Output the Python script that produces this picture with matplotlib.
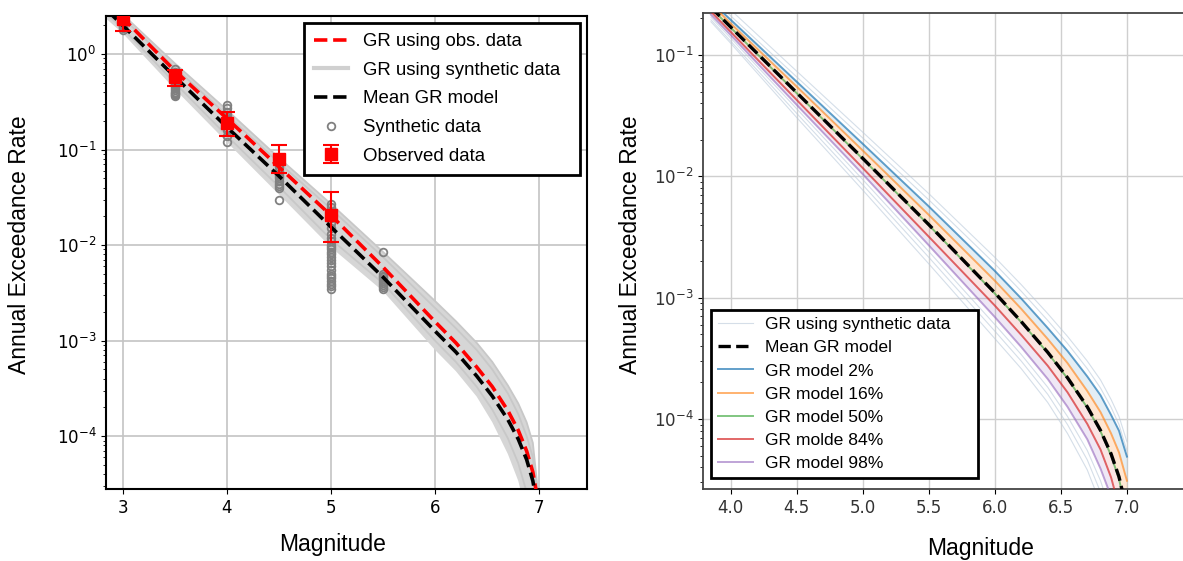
import numpy as np
import matplotlib.pyplot as plt
from matplotlib.lines import Line2D

# ---------------- left panel data ----------------
mag_l = [2.85, 3.0, 3.5, 4.0, 4.5, 5.0, 5.5, 6.0, 6.2, 6.4, 6.55, 6.7, 6.8, 6.88, 6.94, 7.0]
gr_obs = [3.4, 2.4, 0.67, 0.212, 0.066, 0.0205, 0.0059, 0.00158, 0.00095, 0.00053,
          0.00033, 0.000185, 0.000115, 7e-05, 4.2e-05, 1.8e-05]
gr_mean_l = [2.87, 2.0, 0.58, 0.172, 0.053, 0.0155, 0.00463, 0.00126, 0.000761, 0.000427,
             0.000263, 0.000149, 9.3e-05, 5.7e-05, 3.4e-05, 1.44e-05]
band_hi = [3.5, 2.6, 0.8, 0.26, 0.082, 0.027, 0.0085, 0.0026, 0.0016, 0.00095,
           0.0006, 0.00034, 0.00022, 0.00014, 8.5e-05, 2e-05]
band_lo = [2.3, 1.65, 0.43, 0.12, 0.034, 0.0095, 0.0033, 0.0008, 0.00048, 0.00026,
           0.00014, 6.5e-05, 3.4e-05, 1.5e-05, 5e-06, 1e-06]
syn_line_a = [3.2, 2.4, 0.72, 0.23, 0.073, 0.024, 0.0075, 0.0022, 0.00135, 0.0008,
              0.0005, 0.00028, 0.00017, 0.0001, 6e-05, 1.6e-05]
syn_line_b = [2.6, 1.85, 0.5, 0.14, 0.041, 0.0115, 0.004, 0.001, 0.0006, 0.00033,
              0.00019, 9.5e-05, 5.2e-05, 2.6e-05, 1.1e-05, 2e-06]

syn_pts = {
    3.0: [1.8, 1.85, 1.9, 1.95, 2.0, 2.05, 2.1, 2.2, 2.3],
    3.5: [0.36, 0.37, 0.38, 0.39, 0.40, 0.42, 0.44, 0.46, 0.48, 0.50, 0.53, 0.56,
          0.60, 0.65, 0.70],
    4.0: [0.12, 0.14, 0.16, 0.17, 0.18, 0.19, 0.20, 0.21, 0.22, 0.23, 0.25, 0.27, 0.29],
    4.5: [0.030, 0.040, 0.042, 0.044, 0.047, 0.050, 0.053, 0.056, 0.060, 0.065, 0.070],
    5.0: [0.0035, 0.0037, 0.0039, 0.0042, 0.0045, 0.0048, 0.005, 0.0055, 0.006, 0.0065,
          0.007, 0.0075, 0.008, 0.0085, 0.009, 0.0095, 0.010, 0.011, 0.012, 0.013,
          0.015, 0.017, 0.019, 0.022, 0.025, 0.027],
    5.5: [0.0035, 0.0036, 0.0038, 0.004, 0.0042, 0.0044, 0.0046, 0.0048, 0.005, 0.0085],
}

obs_m = [3.0, 3.5, 4.0, 4.5, 5.0]
obs_rate = [2.3, 0.57, 0.19, 0.08, 0.0205]
obs_hi = [2.9, 0.68, 0.245, 0.112, 0.036]
obs_lo = [1.75, 0.46, 0.14, 0.057, 0.0108]

# ---------------- right panel data ----------------
mag_r = [3.85, 4.0, 4.5, 5.0, 5.5, 6.0, 6.2, 6.4, 6.55, 6.7, 6.8, 6.88, 6.94, 7.0]
gr_mean_r = [0.247, 0.17, 0.0489, 0.01406, 0.004, 0.001096, 0.000635, 0.000355,
             0.000219, 0.000126, 8.06e-05, 5.16e-05, 3.34e-05, 1.75e-05]
p02 = [0.277, 0.195, 0.0602, 0.01853, 0.00565, 0.00166, 0.000984, 0.000563,
       0.000364, 0.000224, 0.000157, 0.000108, 8e-05, 4.9e-05]
p16 = [0.265, 0.182, 0.0549, 0.01632, 0.00481, 0.00138, 0.000809, 0.000457,
       0.000289, 0.00017, 0.000114, 7.6e-05, 5.3e-05, 3.1e-05]
p50 = [0.244, 0.168, 0.0484, 0.0139, 0.00396, 0.00108, 0.000628, 0.000351,
       0.000216, 0.000124, 7.9e-05, 5e-05, 3.2e-05, 1.6e-05]
p84 = [0.228, 0.155, 0.0426, 0.0117, 0.00318, 0.00086, 0.000493, 0.000275,
       0.000166, 9.1e-05, 5.6e-05, 3.3e-05, 1.9e-05, 8.4e-06]
p98 = [0.215, 0.146, 0.0388, 0.01042, 0.0027, 0.000692, 0.000392, 0.000214,
       0.000126, 6.8e-05, 3.9e-05, 2.3e-05, 1.2e-05, 4.4e-06]
faint_lines = [
    [0.33, 0.235, 0.0735, 0.0231, 0.0072, 0.00215, 0.00128, 0.00074, 0.00048, 0.0003,
     0.00021, 0.000145, 0.000105, 6.5e-05],
    [0.30, 0.21, 0.066, 0.0207, 0.0064, 0.0019, 0.00113, 0.00065, 0.00042, 0.00026,
     0.00018, 0.000125, 9e-05, 5.5e-05],
    [0.205, 0.138, 0.036, 0.0094, 0.0024, 0.0006, 0.00034, 0.000183, 0.000105, 5.5e-05,
     3.1e-05, 1.7e-05, 8e-06, 2e-06],
    [0.195, 0.13, 0.033, 0.0085, 0.00215, 0.00053, 0.0003, 0.00016, 9e-05, 4.6e-05,
     2.5e-05, 1.3e-05, 6e-06, 1.5e-06],
    [0.188, 0.125, 0.0305, 0.0077, 0.0019, 0.00046, 0.00026, 0.000137, 7.6e-05, 3.8e-05,
     2e-05, 1e-05, 4e-06, 1e-06],
]

lab_font = 'Liberation Sans'

fig = plt.figure(figsize=(11.83, 5.61), dpi=100)

# ================= left panel =================
ax1 = fig.add_axes([106 / 1183, 1 - 489 / 561, 481 / 1183, 473 / 561])
ax1.fill_between(mag_l, band_lo, band_hi, color='#d6d6d6', lw=0, zorder=1)
for ln in [band_hi, syn_line_a, syn_line_b]:
    ax1.plot(mag_l, ln, color='#c8c8c8', lw=1.3, zorder=1.5)

for m, vals in syn_pts.items():
    ax1.plot([m] * len(vals), vals, 'o', mfc='none', mec='#808080', ms=5.5, mew=1.3,
             zorder=3)

ax1.plot(mag_l, gr_obs, '--', color='red', lw=2.6, zorder=4)
ax1.plot(mag_l, gr_mean_l, '--', color='black', lw=2.6, zorder=4)

yerr = [np.array(obs_rate) - np.array(obs_lo), np.array(obs_hi) - np.array(obs_rate)]
ax1.errorbar(obs_m, obs_rate, yerr=yerr, fmt='s', color='red', ms=8, capsize=6,
             elinewidth=1.5, capthick=1.5, zorder=5)

ax1.set_yscale('log')
ax1.set_xlim(2.84, 7.46)
ax1.set_ylim(2.8e-5, 2.5)
ax1.set_xticks([3, 4, 5, 6, 7])
ax1.grid(True, which='major', color='#c4c4c4', lw=1.2)
ax1.set_axisbelow(True)
for s in ax1.spines.values():
    s.set_linewidth(1.5)
    s.set_color('black')
ax1.tick_params(labelsize=12)
ax1.set_xlabel('Magnitude', fontsize=16.5, family=lab_font)
ax1.set_ylabel('Annual Exceedance Rate', fontsize=16.5, family=lab_font)
ax1.xaxis.set_label_coords(0.47, -0.093)
ax1.yaxis.set_label_coords(-0.156, 0.516)

h_left = [
    Line2D([], [], ls='--', color='red', lw=2.6),
    Line2D([], [], color='#d0d0d0', lw=3),
    Line2D([], [], ls='--', color='black', lw=2.6),
    Line2D([], [], marker='o', ls='none', mfc='none', mec='#808080', ms=5.5, mew=1.3),
    ax1.containers[0],
]
l_left = ['GR using obs. data', 'GR using synthetic data', 'Mean GR model',
          'Synthetic data', 'Observed data']
leg1 = ax1.legend(h_left, l_left, loc='upper left', mode='expand',
                  bbox_to_anchor=(0.4116, 0.0, 0.5734, 0.985),
                  borderaxespad=0, fancybox=False, framealpha=1, edgecolor='black',
                  handlelength=1.8, handletextpad=0.8,
                  prop={'family': lab_font, 'size': 13.4}, labelspacing=0.62,
                  borderpad=0.55)
leg1.get_frame().set_linewidth(2)

# ================= right panel =================
ax2 = fig.add_axes([703 / 1183, 1 - 489 / 561, 556 / 1183, 476 / 561])
for ln in faint_lines:
    ax2.plot(mag_r, ln, color='#b9c9da', lw=0.8, alpha=0.6, zorder=1)
ax2.fill_between(mag_r, p16, p02, color='#1f77b4', alpha=0.12, lw=0)
ax2.fill_between(mag_r, p50, p16, color='#ff7f0e', alpha=0.18, lw=0)
ax2.fill_between(mag_r, p84, p50, color='#d62728', alpha=0.12, lw=0)
ax2.fill_between(mag_r, p98, p84, color='#9467bd', alpha=0.15, lw=0)
ax2.plot(mag_r, p02, color='#1f77b4', lw=1.4, alpha=0.7, zorder=3)
ax2.plot(mag_r, p16, color='#ff7f0e', lw=1.4, alpha=0.6, zorder=3)
ax2.plot(mag_r, p50, color='#2ca02c', lw=1.4, alpha=0.6, zorder=3)
ax2.plot(mag_r, p84, color='#d62728', lw=1.4, alpha=0.7, zorder=3)
ax2.plot(mag_r, p98, color='#9467bd', lw=1.4, alpha=0.6, zorder=3)
ax2.plot(mag_r, gr_mean_r, '--', color='black', lw=2.4, zorder=4)

ax2.set_yscale('log')
ax2.set_xlim(3.79, 8.0)
ax2.set_ylim(2.65e-5, 0.222)
ax2.set_xticks([4.0, 4.5, 5.0, 5.5, 6.0, 6.5, 7.0])
ax2.grid(True, which='major', color='#cfcfcf', lw=1.0)
ax2.set_axisbelow(True)
for s in ax2.spines.values():
    s.set_linewidth(1.3)
    s.set_color('#444444')
ax2.tick_params(labelsize=12, labelcolor='#333333')
ax2.set_xlabel('Magnitude', fontsize=16.5, family=lab_font)
ax2.set_ylabel('Annual Exceedance Rate', fontsize=16.5, family=lab_font)
ax2.xaxis.set_label_coords(0.5, -0.1)
ax2.yaxis.set_label_coords(-0.11, 0.513)

h_right = [
    Line2D([], [], color='#b9c9da', lw=0.8, alpha=0.6),
    Line2D([], [], ls='--', color='black', lw=2.4),
    Line2D([], [], color='#1f77b4', lw=1.4, alpha=0.7),
    Line2D([], [], color='#ff7f0e', lw=1.4, alpha=0.6),
    Line2D([], [], color='#2ca02c', lw=1.4, alpha=0.6),
    Line2D([], [], color='#d62728', lw=1.4, alpha=0.7),
    Line2D([], [], color='#9467bd', lw=1.4, alpha=0.6),
]
l_right = ['GR using synthetic data', 'Mean GR model', 'GR model 2%', 'GR model 16%',
           'GR model 50%', 'GR molde 84%', 'GR model 98%']
leg2 = ax2.legend(h_right, l_right, loc='lower left', mode='expand',
                  bbox_to_anchor=(0.0144, 0.023, 0.48, 0.5),
                  borderaxespad=0, fancybox=False, framealpha=1, edgecolor='black',
                  handlelength=2.0, handletextpad=0.7,
                  prop={'family': lab_font, 'size': 12.6}, labelspacing=0.45,
                  borderpad=0.4)
leg2.get_frame().set_linewidth(2)

fig.savefig('out.png', dpi=100)
